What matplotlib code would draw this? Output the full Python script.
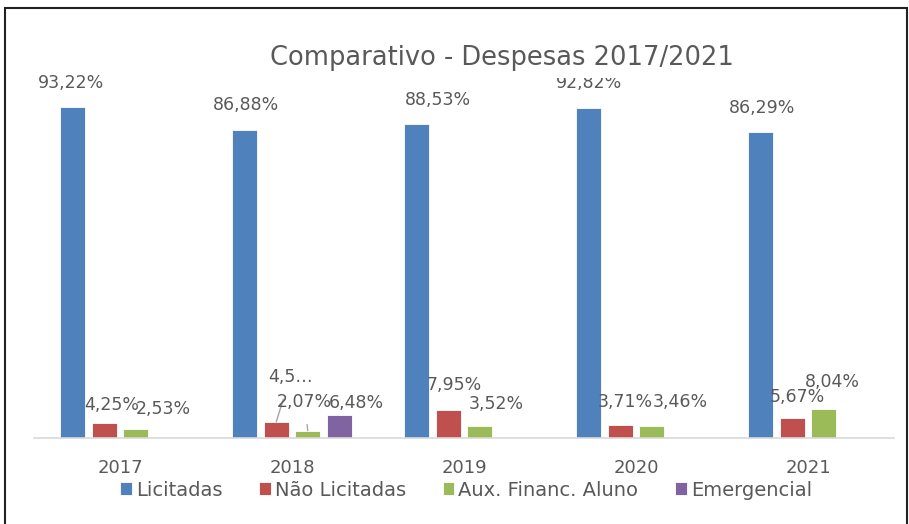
import matplotlib
matplotlib.use("Agg")
import matplotlib.pyplot as plt
from matplotlib.patches import Rectangle
import numpy as np

# ---- data ----
years = ["2017", "2018", "2019", "2020", "2021"]
series_names = ["Licitadas", "Não Licitadas", "Aux. Financ. Aluno", "Emergencial"]
licitadas = [93.22, 86.88, 88.53, 92.82, 86.29]
nao_licitadas = [4.25, 4.57, 7.95, 3.71, 5.67]
aux_financ = [2.53, 2.07, 3.52, 3.46, 8.04]
emergencial = [0, 6.48, 0, 0, 0]
label_texts = [
    ["93,22%", "86,88%", "88,53%", "92,82%", "86,29%"],
    ["4,25%", "4,5…", "7,95%", "3,71%", "5,67%"],
    ["2,53%", "2,07%", "3,52%", "3,46%", "8,04%"],
    [None, "6,48%", None, None, None],
]
title = "Comparativo - Despesas 2017/2021"

# ---- style ----
colors = ["#4F81BD", "#C0504D", "#9BBB59", "#8064A2"]
txt = "#595959"
plt.rcParams["font.family"] = ["DejaVu Sans"]

# label offsets in pixels (dx, dy of label centre relative to bar top centre)
label_off = [
    [(-2, 24), (1, 25), (21, 24), (0, 25), (1, 24)],
    [(7, 18), (14, 45), (6, 25), (5, 23), (5, 21)],
    [(28, 20), (-3, 29), (17, 22), (29, 24), (9, 27)],
    [None, (17, 12), None, None, None],
]
leader = [[False]*5, [False, True, False, False, False], [False, True, False, False, False], [False]*5]

W, H = 909, 524
fig = plt.figure(figsize=(W/100, H/100), dpi=100)
ax = fig.add_axes([34/W, (H-438)/H, 860/W, 355/H])
ax.set_xlim(-0.5, 4.5)
ax.set_ylim(0, 100)

x = np.arange(len(years))
step = 0.183
width = 0.145
all_series = [licitadas, nao_licitadas, aux_financ, emergencial]
for i, (vals, c, name) in enumerate(zip(all_series, colors, series_names)):
    pos = x + (i - 1.5) * step
    ax.bar(pos, vals, width=width, color=c, edgecolor="white", linewidth=0.6, label=name, zorder=2)
    for j, (p, v) in enumerate(zip(pos, vals)):
        t = label_texts[i][j]
        if t is None:
            continue
        dx, dy = label_off[i][j]
        if leader[i][j]:
            ax.annotate(t, xy=(p, v), xytext=(dx, dy), textcoords="offset pixels",
                        ha="center", va="center", fontsize=12.5, color=txt,
                        arrowprops=dict(arrowstyle="-", color="#A6A6A6", lw=1,
                                        shrinkA=8, shrinkB=0), zorder=3)
        else:
            ax.annotate(t, xy=(p, v), xytext=(dx, dy), textcoords="offset pixels",
                        ha="center", va="center", fontsize=12.5, color=txt, zorder=3,
                        annotation_clip=False)

for s in ["top", "right", "left"]:
    ax.spines[s].set_visible(False)
ax.spines["bottom"].set_color("#D9D9D9")
ax.spines["bottom"].set_linewidth(1.2)
ax.set_yticks([])
ax.set_xticks(x)
ax.set_xticklabels(years, fontsize=13, color=txt)
ax.tick_params(axis="x", length=0, pad=15)

fig.text(502/W, 1 - 58/H, title, ha="center", va="center", fontsize=18.5, color=txt,
         bbox=dict(facecolor="white", edgecolor="none", pad=5), zorder=10)

leg = fig.legend(loc="center", bbox_to_anchor=(466/W, 1 - 490/H), ncol=4, frameon=False,
                 fontsize=14, handlelength=0.6, handleheight=0.6, handletextpad=0.2,
                 columnspacing=1.9, labelcolor=txt)

fig.patches.append(Rectangle((5/W, -0.1), 902/W, 1.1 - 8/H, transform=fig.transFigure,
                             fill=False, edgecolor="#222222", linewidth=1.5))

fig.savefig("out.png", dpi=100)
